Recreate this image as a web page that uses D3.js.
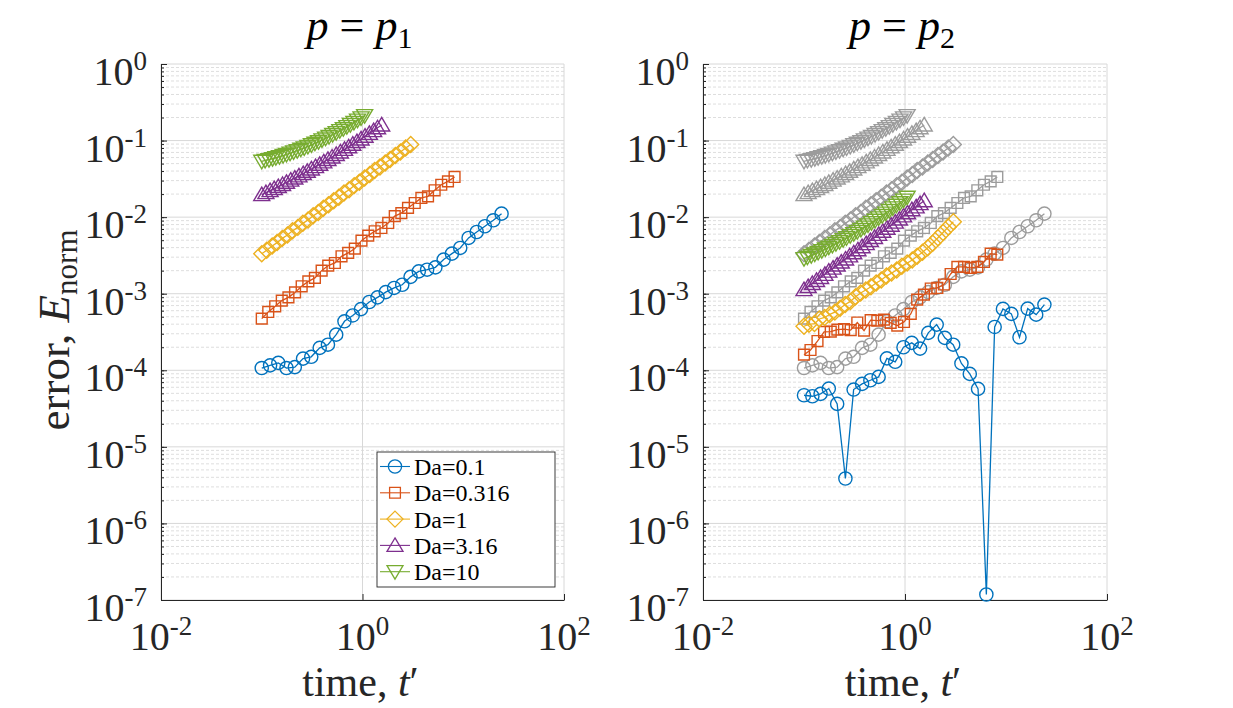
<!DOCTYPE html>
<html>
<head>
<meta charset="utf-8">
<script src="https://cdn.jsdelivr.net/npm/d3@7"></script>
<style>
  body { margin: 0; background: #fff; }
  text { font-family: "Liberation Serif", "Times New Roman", serif; fill: #262626; }
</style>
</head>
<body>
<svg id="chart" width="1233" height="708"></svg>
<script>
// time values of each Da run
const timeDa01   = [0.100, 0.121, 0.146, 0.176, 0.213, 0.257, 0.310, 0.376, 0.454, 0.548, 0.662, 0.800, 0.966, 1.167, 1.41, 1.70, 2.06, 2.48, 3.00, 3.62, 4.38, 5.29, 6.39, 7.72, 9.33, 11.3, 13.6, 16.4, 19.9, 24.0];
const timeDa0316 = [0.100, 0.116, 0.136, 0.158, 0.184, 0.214, 0.249, 0.290, 0.337, 0.393, 0.457, 0.532, 0.619, 0.721, 0.839, 0.977, 1.14, 1.32, 1.54, 1.80, 2.09, 2.43, 2.83, 3.30, 3.84, 4.47, 5.20, 6.05, 7.05, 8.20];
const timeDa1    = [0.100, 0.112, 0.127, 0.142, 0.160, 0.180, 0.202, 0.228, 0.256, 0.288, 0.324, 0.364, 0.409, 0.460, 0.518, 0.582, 0.655, 0.736, 0.828, 0.931, 1.05, 1.18, 1.32, 1.49, 1.68, 1.88, 2.12, 2.38, 2.68, 3.01];
const timeDa316  = [0.100, 0.110, 0.121, 0.133, 0.146, 0.161, 0.176, 0.194, 0.213, 0.234, 0.258, 0.283, 0.311, 0.342, 0.376, 0.413, 0.454, 0.499, 0.549, 0.603, 0.663, 0.729, 0.801, 0.881, 0.968, 1.06, 1.17, 1.29, 1.41, 1.55];
const timeDa10   = [0.100, 0.108, 0.118, 0.128, 0.138, 0.150, 0.163, 0.176, 0.191, 0.207, 0.225, 0.244, 0.264, 0.287, 0.311, 0.337, 0.366, 0.396, 0.430, 0.466, 0.506, 0.548, 0.595, 0.645, 0.699, 0.758, 0.822, 0.892, 0.967, 1.05];

// error, p = p1
const errP1Da01   = [1.07e-4, 1.16e-4, 1.25e-4, 1.07e-4, 1.10e-4, 1.42e-4, 1.50e-4, 1.96e-4, 2.16e-4, 2.92e-4, 4.36e-4, 5.2e-4, 6.3e-4, 7.8e-4, 8.97e-4, 1.05e-3, 1.19e-3, 1.31e-3, 1.66e-3, 1.96e-3, 2.06e-3, 2.21e-3, 2.79e-3, 3.34e-3, 3.96e-3, 5.35e-3, 6.4e-3, 7.6e-3, 9.1e-3, 1.11e-2];
const errP1Da0316 = [4.73e-4, 5.78e-4, 6.85e-4, 8.13e-4, 8.97e-4, 1.04e-3, 1.25e-3, 1.45e-3, 1.61e-3, 2.0e-3, 2.33e-3, 2.52e-3, 3.08e-3, 3.41e-3, 3.88e-3, 4.93e-3, 5.74e-3, 6.53e-3, 7.23e-3, 8.4e-3, 1.03e-2, 1.13e-2, 1.32e-2, 1.53e-2, 1.78e-2, 1.87e-2, 2.24e-2, 2.65e-2, 2.93e-2, 3.35e-2];
const errP1Da1    = [3.33e-3, 3.70e-3, 4.21e-3, 4.65e-3, 5.28e-3, 5.85e-3, 6.62e-3, 7.35e-3, 8.30e-3, 9.20e-3, 1.04e-2, 1.15e-2, 1.31e-2, 1.45e-2, 1.64e-2, 1.82e-2, 2.06e-2, 2.28e-2, 2.58e-2, 2.86e-2, 3.24e-2, 3.60e-2, 4.06e-2, 4.52e-2, 5.10e-2, 5.66e-2, 6.40e-2, 7.10e-2, 8.02e-2, 8.90e-2];
const errP1Da316  = [1.97e-2, 2.09e-2, 2.22e-2, 2.36e-2, 2.51e-2, 2.67e-2, 2.85e-2, 3.04e-2, 3.24e-2, 3.46e-2, 3.71e-2, 3.97e-2, 4.26e-2, 4.57e-2, 4.90e-2, 5.27e-2, 5.67e-2, 6.10e-2, 6.58e-2, 7.10e-2, 7.67e-2, 8.29e-2, 8.97e-2, 9.71e-2, 0.105, 0.114, 0.124, 0.135, 0.147, 0.160];
const errP1Da10   = [5.36e-2, 5.50e-2, 5.64e-2, 5.80e-2, 5.98e-2, 6.17e-2, 6.38e-2, 6.61e-2, 6.85e-2, 7.11e-2, 7.40e-2, 7.71e-2, 8.04e-2, 8.41e-2, 8.81e-2, 9.24e-2, 9.70e-2, 0.102, 0.1075, 0.113, 0.120, 0.127, 0.135, 0.143, 0.152, 0.162, 0.173, 0.185, 0.198, 0.212];

// error, p = p2
const errP2Da01   = [4.72e-5, 4.58e-5, 4.92e-5, 5.77e-5, 3.64e-5, 3.86e-6, 5.6e-5, 6.64e-5, 7.41e-5, 8.2e-5, 1.43e-4, 1.29e-4, 2.0e-4, 2.28e-4, 1.92e-4, 3.08e-4, 3.95e-4, 2.65e-4, 2.16e-4, 1.23e-4, 8.97e-5, 5.71e-5, 1.18e-7, 3.68e-4, 6.33e-4, 5.45e-4, 2.7e-4, 6.39e-4, 5.33e-4, 7.21e-4];
const errP2Da0316 = [1.60e-4, 1.84e-4, 2.41e-4, 3.17e-4, 3.20e-4, 3.40e-4, 3.45e-4, 3.35e-4, 4.20e-4, 3.30e-4, 4.52e-4, 4.45e-4, 4.59e-4, 4.16e-4, 3.84e-4, 4.28e-4, 5.45e-4, 8.37e-4, 9.73e-4, 1.17e-3, 1.19e-3, 1.32e-3, 1.81e-3, 2.24e-3, 2.24e-3, 2.17e-3, 2.24e-3, 2.60e-3, 3.34e-3, 3.24e-3];
const errP2Da1    = [3.76e-4, 3.98e-4, 4.07e-4, 4.68e-4, 4.90e-4, 5.37e-4, 5.75e-4, 6.46e-4, 7.24e-4, 7.94e-4, 9.12e-4, 1.02e-3, 1.12e-3, 1.23e-3, 1.38e-3, 1.51e-3, 1.70e-3, 1.86e-3, 2.04e-3, 2.29e-3, 2.51e-3, 2.75e-3, 3.09e-3, 3.47e-3, 3.98e-3, 4.57e-3, 5.37e-3, 6.31e-3, 7.41e-3, 8.71e-3];
const errP2Da316  = [1.13e-3, 1.24e-3, 1.36e-3, 1.49e-3, 1.63e-3, 1.79e-3, 1.97e-3, 2.16e-3, 2.37e-3, 2.59e-3, 2.84e-3, 3.12e-3, 3.42e-3, 3.75e-3, 4.11e-3, 4.51e-3, 4.95e-3, 5.43e-3, 5.96e-3, 6.53e-3, 7.16e-3, 7.85e-3, 8.61e-3, 9.44e-3, 1.04e-2, 1.14e-2, 1.25e-2, 1.36e-2, 1.50e-2, 1.64e-2];
const errP2Da10   = [2.87e-3, 3.00e-3, 3.15e-3, 3.30e-3, 3.47e-3, 3.65e-3, 3.84e-3, 4.05e-3, 4.28e-3, 4.52e-3, 4.79e-3, 5.08e-3, 5.38e-3, 5.73e-3, 6.09e-3, 6.49e-3, 6.93e-3, 7.40e-3, 7.92e-3, 8.49e-3, 9.10e-3, 9.78e-3, 1.05e-2, 1.13e-2, 1.22e-2, 1.32e-2, 1.43e-2, 1.54e-2, 1.67e-2, 1.82e-2];

const daLabels = ["Da=0.1", "Da=0.316", "Da=1", "Da=3.16", "Da=10"];
const daColors = ["#0072bd", "#d95319", "#edb120", "#7e2f8e", "#77ac30"];
const daMarkers = ["circle", "square", "diamond", "triUp", "triDown"];
const daTimes = [timeDa01, timeDa0316, timeDa1, timeDa316, timeDa10];
const p1Errors = [errP1Da01, errP1Da0316, errP1Da1, errP1Da316, errP1Da10];
const p2Errors = [errP2Da01, errP2Da0316, errP2Da1, errP2Da316, errP2Da10];

const xTicks = [1e-2, 1e0, 1e2];
const yTicks = [1e-7, 1e-6, 1e-5, 1e-4, 1e-3, 1e-2, 1e-1, 1e0];
const grey = "#9c9c9c";

const svg = d3.select("#chart");
const plotTop = 64, plotBottom = 600;

function markerPath(type) {
    switch (type) {
        case "circle":  return "M6.6,0A6.6,6.6 0 1,1 -6.6,0A6.6,6.6 0 1,1 6.6,0Z";
        case "square":  return "M-5.4,-5.4H5.4V5.4H-5.4Z";
        case "diamond": return "M0,-8L8,0L0,8L-8,0Z";
        case "triUp":   return "M0,-7.5L8,6H-8Z";
        case "triDown": return "M0,7.5L8,-6H-8Z";
    }
}

// "10" with a raised exponent
function powerLabel(sel, v) {
    const e = Math.round(Math.log10(v));
    sel.append("tspan").text("10");
    sel.append("tspan").attr("font-size", 27).attr("dy", -15).text(e);
}

function drawSeries(g, x, y, times, errs, color, marker) {
    const data = times.map((t, i) => ({ t: t, e: errs[i] }));
    const line = d3.line().x(d => x(d.t)).y(d => y(d.e));
    g.append("path")
        .datum(data)
        .attr("d", line)
        .attr("fill", "none")
        .attr("stroke", color)
        .attr("stroke-width", 1.3);
    g.append("g")
        .selectAll("path")
        .data(data)
        .enter()
        .append("path")
        .attr("d", markerPath(marker))
        .attr("transform", d => `translate(${x(d.t)},${y(d.e)})`)
        .attr("fill", "none")
        .attr("stroke", color)
        .attr("stroke-width", 1.4);
}

function drawPanel(left, right, sub, errors, withGrey, withLegend) {
    const x = d3.scaleLog().domain([1e-2, 1e2]).range([left, right]);
    const y = d3.scaleLog().domain([1e-7, 1e0]).range([plotBottom, plotTop]);
    const g = svg.append("g");

    // grid
    const allY = y.ticks();
    const isMajor = v => Math.abs(Math.log10(v) - Math.round(Math.log10(v))) < 1e-6;
    g.append("g").selectAll("line")
        .data(allY.filter(v => !isMajor(v)))
        .enter().append("line")
        .attr("x1", left).attr("x2", right)
        .attr("y1", d => y(d)).attr("y2", d => y(d))
        .attr("stroke", "#dedede").attr("stroke-dasharray", "3,2");
    g.append("g").selectAll("line")
        .data(yTicks)
        .enter().append("line")
        .attr("x1", left).attr("x2", right)
        .attr("y1", d => y(d)).attr("y2", d => y(d))
        .attr("stroke", "#d8d8d8");
    g.append("g").selectAll("line")
        .data(xTicks)
        .enter().append("line")
        .attr("x1", d => x(d)).attr("x2", d => x(d))
        .attr("y1", plotTop).attr("y2", plotBottom)
        .attr("stroke", "#d8d8d8");

    // axes
    const yMinor = d3.axisLeft(y).tickValues(allY).tickSize(-3).tickSizeOuter(0).tickFormat("");
    const yMajor = d3.axisLeft(y).tickValues(yTicks).tickSize(-6).tickSizeOuter(0).tickFormat("");
    const xAxis = d3.axisBottom(x).tickValues(xTicks).tickSize(-6).tickSizeOuter(0).tickFormat("");
    [yMinor, yMajor].forEach(ax => {
        g.append("g").attr("transform", `translate(${left},0)`).call(ax)
            .call(a => a.selectAll("path,line").attr("stroke", "#262626"));
    });
    g.append("g").attr("transform", `translate(0,${plotBottom})`).call(xAxis)
        .call(a => a.selectAll("path,line").attr("stroke", "#262626"));

    yTicks.forEach(v => {
        g.append("text")
            .attr("x", left - 14)
            .attr("y", y(v) + 21)
            .attr("text-anchor", "end")
            .attr("font-size", 40)
            .call(powerLabel, v);
    });
    xTicks.forEach(v => {
        g.append("text")
            .attr("x", x(v))
            .attr("y", plotBottom + 50)
            .attr("text-anchor", "middle")
            .attr("font-size", 40)
            .call(powerLabel, v);
    });

    // title and x label
    const mid = (left + right) / 2;
    const title = g.append("text").attr("x", mid - 3).attr("y", 40)
        .attr("text-anchor", "middle").attr("font-size", 44).style("fill", "#000");
    title.append("tspan").attr("font-style", "italic").text("p");
    title.append("tspan").text(" = ");
    title.append("tspan").attr("font-style", "italic").text("p");
    title.append("tspan").attr("font-size", 30).attr("dy", 8).text(sub);

    const xl = g.append("text").attr("x", mid - 2).attr("y", 696)
        .attr("text-anchor", "middle").attr("font-size", 42);
    xl.append("tspan").text("time, ");
    xl.append("tspan").attr("font-style", "italic").text("t");
    xl.append("tspan").text("\u2032");

    // data
    if (withGrey) {
        p1Errors.forEach((errs, i) => drawSeries(g, x, y, daTimes[i], errs, grey, daMarkers[i]));
    }
    errors.forEach((errs, i) => drawSeries(g, x, y, daTimes[i], errs, daColors[i], daMarkers[i]));

    if (withLegend) {
        const lg = g.append("g");
        lg.append("rect")
            .attr("x", 377).attr("y", 452).attr("width", 178).attr("height", 135)
            .attr("fill", "#fff").attr("stroke", "#262626").attr("stroke-width", 0.9);
        daLabels.forEach((lab, i) => {
            const cy = 466.5 + i * 26.3;
            lg.append("line").attr("x1", 380).attr("x2", 410).attr("y1", cy).attr("y2", cy)
                .attr("stroke", daColors[i]).attr("stroke-width", 1.1);
            lg.append("path").attr("d", markerPath(daMarkers[i]))
                .attr("transform", `translate(395,${cy})`)
                .attr("fill", "none").attr("stroke", daColors[i]).attr("stroke-width", 1.3);
            lg.append("text").attr("x", 414).attr("y", cy + 8.5)
                .attr("font-size", 24)
                .style("fill", "#000").text(lab);
        });
    }
}

drawPanel(161, 564, "1", p1Errors, false, true);
drawPanel(703, 1107, "2", p2Errors, true, false);

// y label
const yl = svg.append("text")
    .attr("transform", "translate(69,330) rotate(-90)")
    .attr("text-anchor", "middle")
    .attr("font-size", 45);
yl.append("tspan").text("error, ");
yl.append("tspan").attr("font-style", "italic").text("E");
yl.append("tspan").attr("font-size", 31).attr("dy", 8).text("norm");
</script>
</body>
</html>
